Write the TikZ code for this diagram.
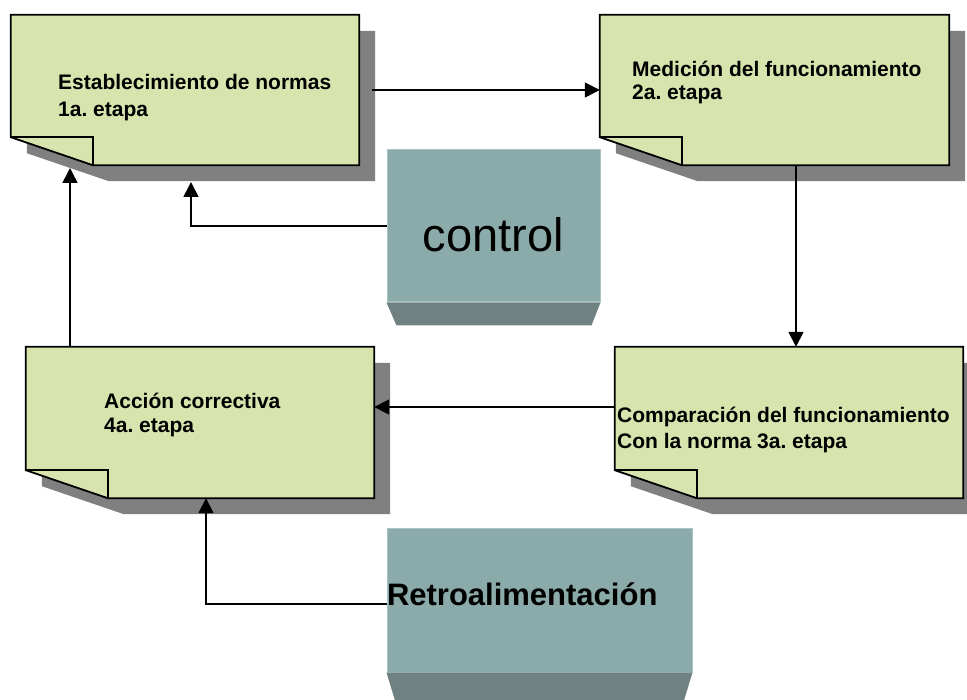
\documentclass[tikz,border=0pt]{standalone}
\usepackage{fontspec}
\setmainfont{Liberation Sans}
\usetikzlibrary{arrows.meta,backgrounds}
\frenchspacing
\definecolor{notegreen}{RGB}{215,228,174}
\definecolor{shadowgray}{RGB}{128,128,128}
\definecolor{ctrlfill}{RGB}{139,171,170}
\definecolor{ctrlbottom}{RGB}{111,129,129}
\definecolor{ctrledge}{RGB}{168,197,197}
\newcommand\drawnote[1]{%
  \fill[shadowgray] ([shift={(16,16)}]#1.north west) -- ([shift={(16,16)}]#1.north east) -- ([shift={(16,16)}]#1.south east) -- ([shift={(16,16)},xshift=82pt]#1.south west) -- ([shift={(16,16)},yshift=28pt]#1.south west) -- cycle;
  \filldraw[noteline, fill=notegreen] (#1.north west) -- (#1.north east) -- (#1.south east) -- ([xshift=82pt]#1.south west) -- ([yshift=28pt]#1.south west) -- cycle;
  \draw[noteline] ([yshift=28pt]#1.south west) -- ([xshift=82pt,yshift=28pt]#1.south west) -- ([xshift=82pt]#1.south west);
}
\tikzset{
  noteline/.style={line width=1.8pt, line join=miter},
  notebox/.style={rectangle, inner sep=0pt, draw=none, minimum width=348pt, minimum height=150pt},
  notetext/.style={anchor=north west, inner sep=0pt, align=left, font=\bfseries\fontsize{21}{#1}\selectfont},
  arr/.style={line width=1.6pt, -{Triangle[length=15pt,width=15pt]}},
  gbox/.style={rectangle, fill=ctrlfill, draw=ctrledge, line width=1pt},
}
\begin{document}
\begin{tikzpicture}[x=1pt,y=-1pt]
\useasboundingbox (0,0) rectangle (967,700);
\clip (0,0) rectangle (967,700);
% note boxes (placeholders)
\node[notebox] (b1) at (185,90) {};
\node[notebox, minimum width=349pt] (b2) at (774.5,90) {};
\node[notebox, minimum height=151pt] (b3) at (789,422.5) {};
\node[notebox, minimum height=151pt] (b4) at (200,422.5) {};
% texts
\node[notetext=27] (t1) at (58,72) {\rule{0pt}{17pt}Establecimiento de normas\\1a. etapa};
\node[notetext=23] (t2) at (632,59) {\rule{0pt}{17pt}Medición del funcionamiento\\2a. etapa};
\node[notetext=26] (t3) at (617,405) {\rule{0pt}{17pt}Comparación del funcionamiento\\Con la norma 3a. etapa};
\node[notetext=24] (t4) at (104,391) {\rule{0pt}{17pt}Acción correctiva\\4a. etapa};
% grey boxes
\node[gbox, minimum width=213pt, minimum height=152pt, inner sep=0pt, text height=60pt, text depth=8pt,
      font=\fontsize{47}{56}\selectfont] (ctrl) at (493.5,226) {control};
\fill[ctrlbottom] (ctrl.south west) -- (ctrl.south east) -- ([shift={(-9,23)}]ctrl.south east) -- ([shift={(10,23)}]ctrl.south west) -- cycle;
\node[gbox, minimum width=305pt, minimum height=144pt, inner sep=0pt, text width=305pt, align=left,
      text height=20pt, text depth=10pt, font=\bfseries\fontsize{31}{36}\selectfont] (retro) at (539.5,600) {Retroalimentación};
\fill[ctrlbottom] (retro.south west) -- (retro.south east) -- ([shift={(-10,33)}]retro.south east) -- ([shift={(10,33)}]retro.south west) -- cycle;
\begin{pgfonlayer}{background}
\drawnote{b1}
\drawnote{b2}
\drawnote{b3}
\drawnote{b4}
\end{pgfonlayer}
% connectors
\coordinate (tip41) at (70,168);
\coordinate (tipc1) at (191,182);
\draw[arr] ([xshift=13pt]b1.east) -- (b2.west);
\draw[arr] (b2.south -| 796,0) -- (b3.north -| 796,0);
\draw[arr] (b3.west |- 0,407) -- (b4.east |- 0,407);
\draw[arr] (b4.north -| 70,0) -- (tip41);
\draw[arr] (ctrl.west) -| (tipc1);
\draw[arr] (retro.west |- 0,604) -| (b4.south -| 206,0);
\end{tikzpicture}
\end{document}
